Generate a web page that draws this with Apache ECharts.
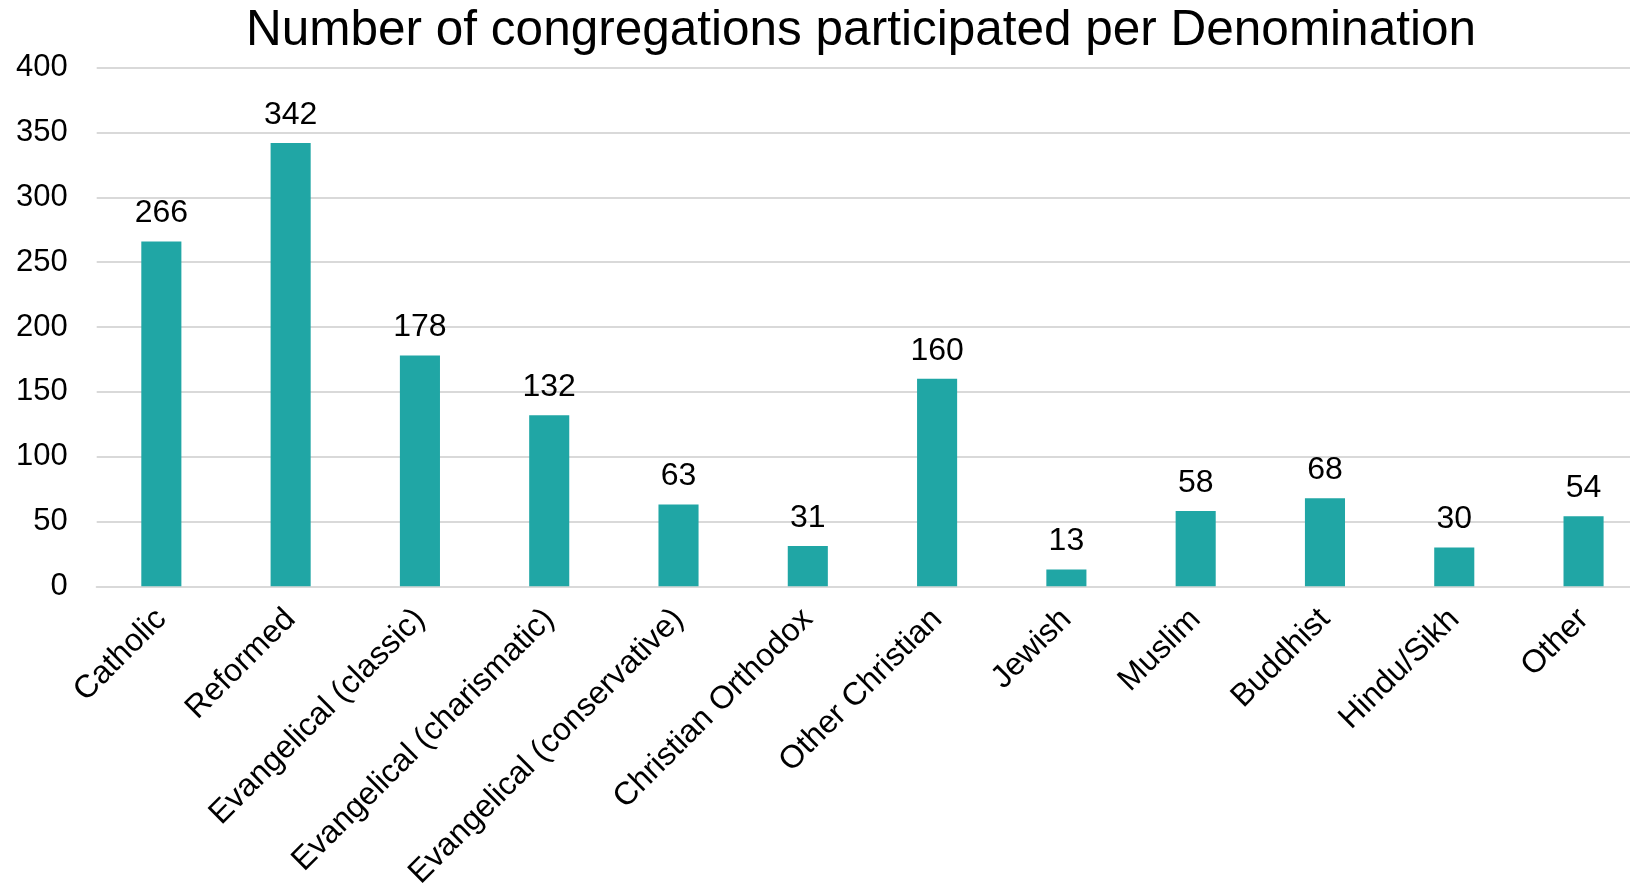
<!DOCTYPE html>
<html><head><meta charset="utf-8">
<script src="https://cdn.jsdelivr.net/npm/echarts@6/dist/echarts.min.js"></script>
<style>html,body{margin:0;padding:0;background:#fff}#c{width:1630px;height:887px}</style>
</head><body><div id="c"></div>
<script>
const categories = ["Catholic","Reformed","Evangelical (classic)","Evangelical (charismatic)","Evangelical (conservative)","Christian Orthodox","Other Christian","Jewish","Muslim","Buddhist","Hindu/Sikh","Other"];
const values = [266,342,178,132,63,31,160,13,58,68,30,54];
const titleText = "Number of congregations participated per Denomination";
const FONT = "'Liberation Sans', Arial, sans-serif";
const chart = echarts.init(document.getElementById('c'));
chart.setOption({
  animation:false,
  backgroundColor:'#fff',
  title:{text:titleText,left:856,top:1,textAlign:'center',textStyle:{fontFamily:FONT,fontSize:49.5,fontWeight:'normal',color:'#000'}},
  grid:{left:96.7,width:1551.5,top:67.7,bottom:300.7,containLabel:false,outerBoundsMode:'none'},
  xAxis:{type:'category',data:categories,
    axisLine:{show:true,lineStyle:{color:'#d9d9d9',width:2}},
    axisTick:{show:false},
    axisLabel:{rotate:45,interval:0,margin:28,fontFamily:FONT,fontSize:32,color:'#000'}},
  yAxis:{type:'value',min:0,max:400,interval:50,
    axisLine:{show:false},axisTick:{show:false},
    splitLine:{lineStyle:{color:'#d9d9d9',width:2}},
    axisLabel:{margin:29,fontFamily:FONT,fontSize:31,color:'#000'}},
  series:[{type:'bar',data:values,barWidth:'31%',
    itemStyle:{color:'#20A6A5'},
    label:{show:true,position:'top',distance:12,fontFamily:FONT,fontSize:32,color:'#000'}}]
});
</script></body></html>
